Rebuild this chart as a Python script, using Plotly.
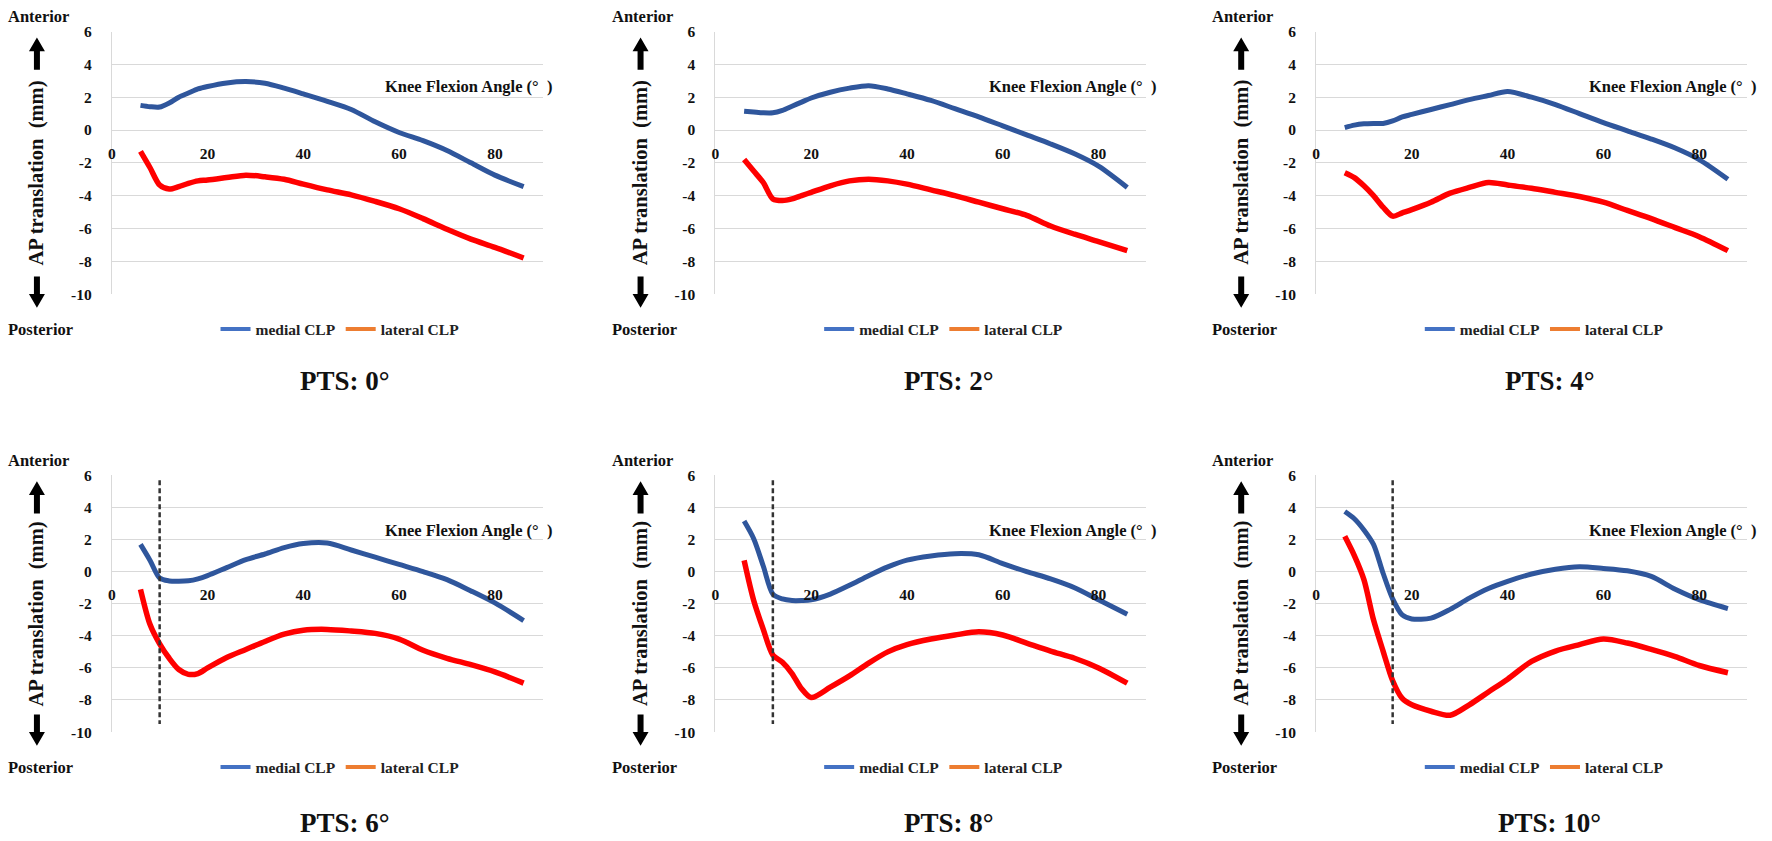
import plotly.graph_objects as go

# ---------------- data ----------------
flexion = [6, 8, 10, 12, 14, 16, 18, 20, 24, 28, 32, 36, 40, 45, 50, 55, 60, 65, 70, 75, 80, 86]

pts_labels = ["PTS: 0°", "PTS: 2°", "PTS: 4°", "PTS: 6°", "PTS: 8°", "PTS: 10°"]

medial_pts0 = [1.5, 1.42, 1.4, 1.65, 2.0, 2.25, 2.5, 2.65, 2.87, 2.95, 2.85, 2.55, 2.2, 1.75, 1.25, 0.5, -0.15, -0.65, -1.25, -2.0, -2.75, -3.45]
lateral_pts0 = [-1.3, -2.3, -3.35, -3.6, -3.45, -3.25, -3.1, -3.05, -2.9, -2.75, -2.85, -3.0, -3.3, -3.65, -3.95, -4.35, -4.8, -5.4, -6.05, -6.65, -7.15, -7.8]

medial_pts2 = [1.15, 1.1, 1.05, 1.05, 1.2, 1.45, 1.7, 1.95, 2.3, 2.55, 2.7, 2.5, 2.2, 1.8, 1.3, 0.8, 0.25, -0.3, -0.85, -1.45, -2.2, -3.5]
lateral_pts2 = [-1.8, -2.5, -3.2, -4.2, -4.3, -4.2, -4.0, -3.8, -3.4, -3.1, -3.0, -3.1, -3.3, -3.65, -4.0, -4.4, -4.8, -5.2, -5.85, -6.35, -6.8, -7.35]

medial_pts4 = [0.15, 0.3, 0.38, 0.4, 0.4, 0.55, 0.8, 0.95, 1.25, 1.55, 1.85, 2.1, 2.35, 2.0, 1.55, 1.0, 0.45, -0.05, -0.55, -1.1, -1.8, -3.0]
lateral_pts4 = [-2.6, -2.9, -3.4, -4.0, -4.7, -5.25, -5.05, -4.85, -4.4, -3.85, -3.5, -3.2, -3.35, -3.55, -3.8, -4.05, -4.4, -4.9, -5.4, -5.95, -6.5, -7.35]

medial_pts6 = [1.7, 0.7, -0.4, -0.58, -0.6, -0.57, -0.45, -0.25, 0.25, 0.75, 1.1, 1.5, 1.75, 1.78, 1.35, 0.9, 0.45, 0.0, -0.5, -1.2, -1.95, -3.05]
lateral_pts6 = [-1.1, -3.3, -4.5, -5.4, -6.1, -6.4, -6.35, -6.0, -5.35, -4.85, -4.35, -3.9, -3.65, -3.6, -3.7, -3.85, -4.2, -4.9, -5.4, -5.8, -6.25, -6.95]

medial_pts8 = [3.15, 2.05, 0.35, -1.4, -1.7, -1.8, -1.8, -1.76, -1.4, -0.85, -0.25, 0.3, 0.72, 0.98, 1.12, 1.05, 0.5, 0.0, -0.45, -1.0, -1.75, -2.65]
lateral_pts8 = [0.7, -1.8, -3.6, -5.2, -5.65, -6.35, -7.3, -7.85, -7.2, -6.5, -5.7, -5.0, -4.55, -4.2, -3.95, -3.75, -3.95, -4.45, -4.95, -5.4, -6.0, -6.95]

medial_pts10 = [3.75, 3.3, 2.6, 1.7, -0.1, -1.7, -2.7, -2.95, -2.9, -2.35, -1.65, -1.05, -0.6, -0.15, 0.15, 0.3, 0.2, 0.05, -0.3, -1.1, -1.75, -2.3]
lateral_pts10 = [2.2, 1.0, -0.5, -3.0, -4.95, -6.8, -7.9, -8.3, -8.7, -8.95, -8.3, -7.5, -6.7, -5.6, -4.95, -4.55, -4.2, -4.45, -4.85, -5.3, -5.85, -6.3]

medial_series = [medial_pts0, medial_pts2, medial_pts4, medial_pts6, medial_pts8, medial_pts10]
lateral_series = [lateral_pts0, lateral_pts2, lateral_pts4, lateral_pts6, lateral_pts8, lateral_pts10]

# vertical dashed transition lines (knee flexion angle), None = no line
transition_angle = [None, None, None, 10, 12, 16]
dash_y = [5.7, -9.5]

x_ticks = [0, 20, 40, 60, 80]
y_ticks = [6, 4, 2, 0, -2, -4, -6, -8, -10]
y_ticktext = ["6", "4", "2", "0", "-2", "-4", "-6", "-8", "-10"]

# ---------------- styling / layout ----------------
W, H = 1772, 841
FONT = "Liberation Serif, Times New Roman, serif"
BLUE = "#2F569C"
RED = "#FF0000"
LEG_BLUE = "#4472C4"
LEG_ORANGE = "#ED7D31"
GRID = "#D9D9D9"

col_left = [108, 713, 1315]
plot_w = 432
row_top = [23, 476]      # pixel of y=6
row_bot = [291, 738]     # pixel of y=-10
pts_y = [380, 831]


def fx(px):
    return px / W


def fy(py):
    return 1 - py / H


def up_arrow(cx, tip, base):
    hh, hw, sw = 14, 8, 3
    pts = [(cx - sw, base), (cx - sw, tip + hh), (cx - hw, tip + hh), (cx, tip),
           (cx + hw, tip + hh), (cx + sw, tip + hh), (cx + sw, base)]
    return "M " + " L ".join(f"{fx(a):.5f},{fy(b):.5f}" for a, b in pts) + " Z"


def down_arrow(cx, base, tip):
    hh, hw, sw = 14, 8, 3
    pts = [(cx - sw, base), (cx - sw, tip - hh), (cx - hw, tip - hh), (cx, tip),
           (cx + hw, tip - hh), (cx + sw, tip - hh), (cx + sw, base)]
    return "M " + " L ".join(f"{fx(a):.5f},{fy(b):.5f}" for a, b in pts) + " Z"


fig = go.Figure()
shapes = []
annotations = []
layout_axes = {}

for i in range(6):
    r, c = divmod(i, 3)
    n = "" if i == 0 else str(i + 1)
    xa, ya = "x" + n, "y" + n
    left = col_left[c]
    top, bot = row_top[r], row_bot[r]
    zero_px = top + (bot - top) * 6 / 16

    fig.add_trace(go.Scatter(x=flexion, y=medial_series[i], mode="lines",
                             line=dict(color=BLUE, width=5, shape="spline", smoothing=0.8),
                             xaxis=xa, yaxis=ya, showlegend=False, hoverinfo="skip"))
    fig.add_trace(go.Scatter(x=flexion, y=lateral_series[i], mode="lines",
                             line=dict(color=RED, width=5.5, shape="spline", smoothing=0.8),
                             xaxis=xa, yaxis=ya, showlegend=False, hoverinfo="skip"))
    if transition_angle[i] is not None:
        fig.add_trace(go.Scatter(x=[transition_angle[i], transition_angle[i]], y=dash_y, mode="lines",
                                 line=dict(color="#333333", width=2.5, dash="5px,3px"),
                                 xaxis=xa, yaxis=ya, showlegend=False, hoverinfo="skip"))

    leg = "legend" if i == 0 else "legend" + str(i + 1)
    fig.add_trace(go.Scatter(x=[None], y=[None], mode="lines", name="medial CLP",
                             line=dict(color=LEG_BLUE, width=4), xaxis=xa, yaxis=ya, legend=leg))
    fig.add_trace(go.Scatter(x=[None], y=[None], mode="lines", name="lateral CLP",
                             line=dict(color=LEG_ORANGE, width=4), xaxis=xa, yaxis=ya, legend=leg))
    layout_axes[leg] = dict(orientation="h", x=fx(left + 104), y=fy(bot + 36),
                            xanchor="left", yanchor="middle", bgcolor="rgba(0,0,0,0)",
                            font=dict(family=FONT, size=15.5, color="#222", weight="bold"),
                            itemwidth=30, tracegroupgap=0)

    layout_axes["xaxis" + n] = dict(domain=[fx(left), fx(left + plot_w)], range=[0, 90],
                                    anchor="free", position=fy(zero_px),
                                    tickvals=x_ticks, showgrid=False, showline=False, zeroline=False,
                                    ticks="", ticklabelstandoff=12,
                                    tickfont=dict(family=FONT, size=15.5, color="#111", weight="bold"),
                                    fixedrange=True)
    layout_axes["yaxis" + n] = dict(domain=[fy(bot), fy(top)], range=[-10, 6], anchor=xa,
                                    tickvals=y_ticks, ticktext=y_ticktext, showgrid=True,
                                    gridcolor=GRID, gridwidth=1, showline=True, linecolor=GRID,
                                    linewidth=1, zeroline=False, ticks="", ticklabelstandoff=16,
                                    tickfont=dict(family=FONT, size=15.5, color="#111", weight="bold"),
                                    fixedrange=True)

    ax = left - 75
    annotations.append(dict(text="Anterior", x=fx(left - 106), y=fy(top - 15), xref="paper", yref="paper",
                            xanchor="left", yanchor="middle", showarrow=False,
                            font=dict(family=FONT, size=16.5, color="#111", weight="bold")))
    annotations.append(dict(text="Posterior", x=fx(left - 106), y=fy(bot + 36), xref="paper", yref="paper",
                            xanchor="left", yanchor="middle", showarrow=False,
                            font=dict(family=FONT, size=16.5, color="#111", weight="bold")))
    annotations.append(dict(text="AP translation\u00a0\u00a0(mm)", x=fx(ax), y=fy((top + bot) / 2 + 10),
                            xref="paper", yref="paper", textangle=-90, xanchor="center", yanchor="middle",
                            showarrow=False, font=dict(family=FONT, size=20.5, color="#111", weight="bold")))
    annotations.append(dict(text="Knee Flexion Angle (°\u00a0\u00a0)", x=fx(left + 272), y=fy(top + 56),
                            xref="paper", yref="paper", xanchor="left", yanchor="middle", showarrow=False,
                            font=dict(family=FONT, size=16.5, color="#111", weight="bold")))
    annotations.append(dict(text=pts_labels[i], x=fx(left + 234), y=fy(pts_y[r]), xref="paper", yref="paper",
                            xanchor="center", yanchor="middle", showarrow=False,
                            font=dict(family=FONT, size=27, color="#111", weight="bold")))

    shapes.append(dict(type="path", xref="paper", yref="paper", path=up_arrow(ax, top + 6, top + 39),
                       fillcolor="#000", line=dict(width=0)))
    shapes.append(dict(type="path", xref="paper", yref="paper", path=down_arrow(ax, bot - 18, bot + 14),
                       fillcolor="#000", line=dict(width=0)))

fig.update_layout(width=W, height=H, margin=dict(l=0, r=0, t=0, b=0),
                  paper_bgcolor="white", plot_bgcolor="white",
                  shapes=shapes, annotations=annotations, **layout_axes)

fig.write_html("out.html")
